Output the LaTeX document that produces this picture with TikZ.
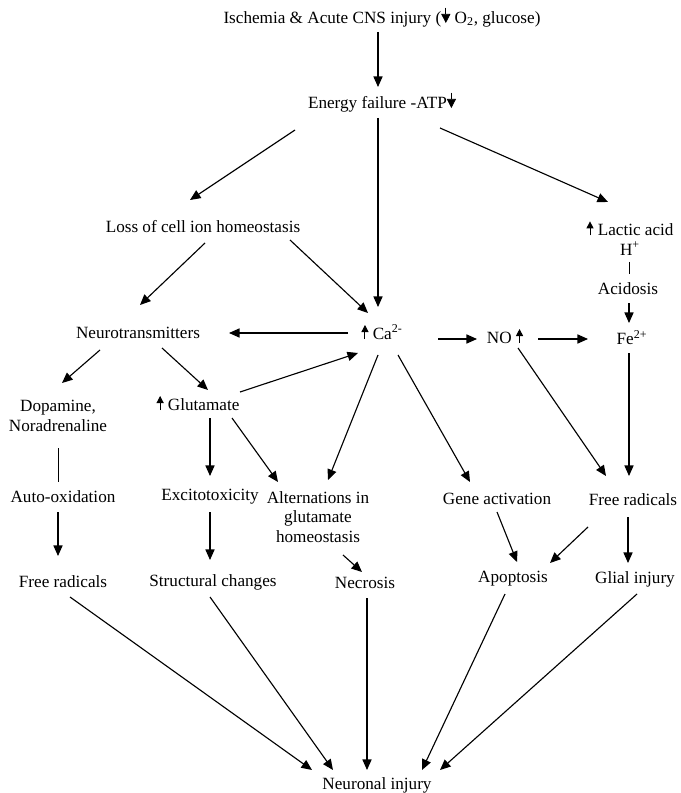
\documentclass[tikz,border=0pt]{standalone}
\usepackage{fontspec}
\setmainfont{Liberation Serif}
\usepackage{tikz}
\usetikzlibrary{arrows.meta,calc}

% small arrows set inside the labels
\newcommand{\upar}{\tikz[baseline=0pt]\draw[line width=0.7pt,-{Triangle[length=5pt,width=5pt]}] (0pt,0pt) -- (0pt,10pt);}
\newcommand{\dnar}{\tikz[baseline=0pt]\draw[line width=0.5pt,-{Triangle[length=6.5pt,width=6.5pt]}] (0pt,11pt) -- (0pt,0pt);}

\tikzset{
  lbl/.style={inner sep=1pt, align=center},
  arr/.style={line width=0.8pt, -{Triangle[length=7.5pt,width=6.5pt]}},
  ln/.style={line width=0.6pt}
}

\begin{document}
\begin{tikzpicture}[x=0.025cm, y=-0.025cm, font=\fontsize{12.2}{14}\selectfont]
        \useasboundingbox (0,0) rectangle (680,793);
        % labels
        \node[lbl] (isch)   at (382,17)  {Ischemia \& Acute CNS injury (\dnar\ O\textsubscript{2}, glucose)};
        \node[lbl] (energy) at (382,102) {Energy failure -ATP\dnar};
        \node[lbl] (loss)   at (203,227) {Loss of cell ion homeostasis};
        \node[lbl] (lactic) at (630,238) {\upar\ Lactic acid\\H\textsuperscript{+}};
        \node[lbl] (acid)   at (628,289) {Acidosis};
        \node[lbl] (fe)     at (632,338) {Fe\textsuperscript{2+}};
        \node[lbl] (neuro)  at (138,333) {Neurotransmitters};
        \node[lbl] (ca)     at (382,332) {\upar\ Ca\textsuperscript{2-}};
        \node[lbl] (no)     at (505,336) {NO \upar};
        \node[lbl] (dopa)   at (58,416)  {Dopamine,\\Noradrenaline};
        \node[lbl] (glut)   at (198,403) {\upar\ Glutamate};
        \node[lbl] (auto)   at (63,497)  {Auto-oxidation};
        \node[lbl] (exc)    at (210,497) {Excitotoxicity};
        \node[lbl] (alt)    at (318,517) {Alternations in\\glutamate\\homeostasis};
        \node[lbl] (gene)   at (497,499) {Gene activation};
        \node[lbl] (frr)    at (633,500) {Free radicals};
        \node[lbl] (frl)    at (63,582)  {Free radicals};
        \node[lbl] (struct) at (213,582) {Structural changes};
        \node[lbl] (necro)  at (365,583) {Necrosis};
        \node[lbl] (apop)   at (513,579) {Apoptosis};
        \node[lbl] (glial)  at (635,579) {Glial injury};
        \node[lbl] (neur)   at (377,785) {Neuronal injury};
        % top part
        \draw[arr] ($(isch)+(-4,15)$) -- ($(energy)+(-4,-15)$);
        \draw[arr] ($(energy)+(-87,28)$) -- ($(loss)+(-13,-27)$);
        \draw[arr] ($(energy)+(-4,16)$) -- ($(ca)+(-4,-25)$);
        \draw[arr] ($(energy)+(58,26)$) -- ($(lactic)+(-22,-36)$);
        \draw[arr] ($(loss)+(2,16)$) -- ($(neuro)+(2,-28)$);
        \draw[arr] ($(loss)+(87,13)$) -- ($(ca)+(-14,-19)$);
        \draw[arr] ($(ca)+(-34,1)$) -- ($(neuro)+(91,0)$);
        \draw[arr] ($(ca)+(56,7)$) -- ($(no)+(-28,3)$);
        \draw[arr] ($(no)+(33,3)$) -- ($(fe)+(-44,1)$);
        \draw[ln]  ($(lactic)+(-1,24)$) -- ($(acid)+(1,-15)$);
        \draw[arr] ($(acid)+(1,14)$) -- ($(fe)+(-3,-15)$);
        \draw[arr] ($(fe)+(-3,15)$) -- ($(frr)+(-4,-24)$);
        \draw[arr] ($(no)+(13,12)$) -- ($(frr)+(-27,-24)$);
        % middle part
        \draw[arr] ($(neuro)+(-38,17)$) -- ($(dopa)+(4,-33)$);
        \draw[arr] ($(neuro)+(24,15)$) -- ($(glut)+(10,-13)$);
        \draw[arr] ($(glut)+(42,-11)$) -- ($(ca)+(-24,21)$);
        \draw[arr] ($(glut)+(12,15)$) -- ($(exc)+(0,-21)$);
        \draw[arr] ($(glut)+(34,15)$) -- ($(alt)+(-40,-35)$);
        \draw[arr] ($(ca)+(-4,23)$) -- ($(alt)+(10,-37)$);
        \draw[arr] ($(ca)+(16,23)$) -- ($(gene)+(-27,-17)$);
        \draw[ln]  ($(dopa)+(0,32)$) -- ($(auto)+(-5,-15)$);
        \draw[arr] ($(auto)+(-5,15)$) -- ($(frl)+(-5,-26)$);
        \draw[arr] ($(exc)+(0,15)$) -- ($(struct)+(-3,-22)$);
        \draw[arr] ($(alt)+(25,38)$) -- ($(necro)+(-3,-11)$);
        \draw[arr] ($(gene)+(0,13)$) -- ($(apop)+(4,-17)$);
        \draw[arr] ($(frr)+(-45,27)$) -- ($(apop)+(37,-16)$);
        \draw[arr] ($(frr)+(-5,17)$) -- ($(glial)+(-7,-16)$);
        % into neuronal injury
        \foreach \n/\a/\b in {frl/7/-65, struct/-3/-44, necro/2/-10, apop/-8/45, glial/2/63}{
          \draw[arr] ($(\n)+(\a,15)$) -- ($(neur)+(\b,-15)$);
        }
      \end{tikzpicture}
\end{document}
